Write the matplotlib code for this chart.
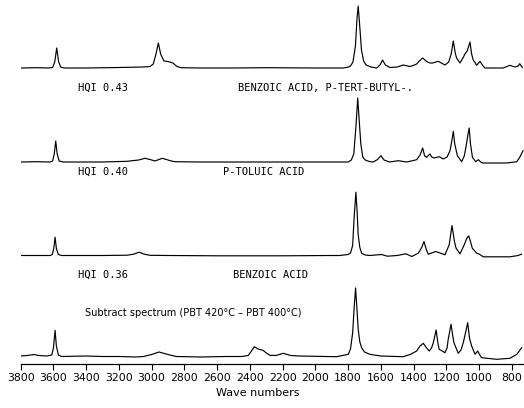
"""Library search hits vs. PBT subtract spectrum (stacked IR spectra)."""
import matplotlib
matplotlib.use("Agg")
import matplotlib.pyplot as plt

# Each spectrum: wavenumber (cm-1) and band height above its own baseline (a.u.)
TBA_WN = [3800, 3700, 3630, 3605, 3592, 3580, 3568, 3555, 3530, 3400, 3200, 3050, 3010,
          2990, 2975, 2959, 2945, 2925, 2900, 2870, 2845, 2820, 2700, 2500, 2300, 2000,
          1830, 1800, 1785, 1770, 1755, 1745, 1738, 1730, 1718, 1705, 1690, 1660, 1625,
          1605, 1589, 1572, 1544, 1500, 1463, 1422, 1395, 1381, 1365, 1344, 1320, 1300,
          1283, 1249, 1208, 1185, 1170, 1157, 1145, 1137, 1116, 1095, 1086, 1072, 1055,
          1045, 1035, 1014, 994, 975, 964, 900, 852, 811, 782, 760, 751, 735]
TBA_H = [0, 0.3, 0, 0.5, 6, 20, 6, 0.8, 0, 0, 0.5, 1.0, 1.5,
         4, 13, 25, 14, 7, 6.5, 5, 1.5, 0.3, 0, 0, 0.3, 0,
         0, 0.8, 2, 6, 22, 50, 62, 45, 18, 7, 3, 1, 0,
         3, 8, 3, 0.5, 1, 3, 1.5, 3, 4, 7, 10, 6.5, 5,
         5, 6.7, 3, 6, 14, 27, 15, 10, 5, 11, 14, 17, 26,
         14, 8, 2.7, 6.7, 2, 0, 0, 0, 2.7, 1, 2, 4.3, 0.5]

TOL_WN = [3800, 3700, 3620, 3605, 3595, 3586, 3577, 3565, 3540, 3400, 3300, 3150, 3080,
          3041, 3010, 2980, 2955, 2935, 2910, 2880, 2857, 2700, 2400, 2100, 1850, 1799,
          1780, 1765, 1752, 1741, 1732, 1722, 1710, 1695, 1670, 1646, 1620, 1599, 1580,
          1547, 1493, 1442, 1400, 1381, 1360, 1344, 1332, 1320, 1300, 1288, 1275, 1243,
          1218, 1195, 1177, 1165, 1157, 1148, 1132, 1106, 1090, 1080, 1068, 1060, 1052,
          1040, 1020, 1004, 990, 978, 900, 831, 769, 751, 731]
TOL_H = [0, 0.3, 0, 1, 8, 21, 8, 1, 0, 0, 0, 0.7, 2,
         3.7, 2.5, 1, 2.5, 3.7, 2.5, 1, 0.3, 0, 0, 0, 0, 0,
         2, 8, 35, 64, 42, 18, 5, 2, 0.5, 0, 2.5, 6.3, 2,
         0, 1.3, 0, 1.5, 2.3, 7, 14, 6, 4.7, 8, 5, 4, 5.3,
         3, 5, 11.3, 22, 30.7, 18, 6.3, 0.3, 6, 14.7, 27, 34, 18,
         4.7, 0.3, 2.3, 0, -1, -1, -1, 0.3, 4.7, 11.3]

BZA_WN = [3800, 3700, 3620, 3607, 3598, 3590, 3582, 3570, 3550, 3300, 3150, 3110, 3077,
          3045, 3010, 2900, 2600, 2200, 1900, 1850, 1800, 1785, 1772, 1762, 1752, 1745,
          1738, 1728, 1717, 1695, 1667, 1596, 1560, 1500, 1446, 1411, 1371, 1350, 1336,
          1322, 1310, 1264, 1230, 1208, 1182, 1165, 1150, 1140, 1116, 1090, 1075, 1063,
          1052, 1041, 1014, 998, 974, 811, 761, 740]
BZA_H = [0, 0, 0, 1, 7, 18.3, 7, 1, 0, 0, 0.3, 1.3, 3.3,
         1.3, 0.2, 0, -0.3, -0.3, 0, 0, 1, 2.5, 10, 40, 63.3, 45,
         20.7, 8, 2.3, 0.5, 0, 1, -0.7, 0, 1.7, -1, 2.3, 8, 14,
         6, 1.3, 4, 2, 0.7, 10.7, 30, 14, 7.3, 1.7, 10.7, 17, 19.7,
         14, 7.3, 2.3, 1.3, -1.3, -1.3, 0, 1.3]

SUB_WN = [3800, 3760, 3720, 3690, 3640, 3610, 3600, 3590, 3582, 3570, 3550, 3400, 3300,
          3200, 3100, 3050, 3000, 2955, 2900, 2850, 2700, 2550, 2450, 2410, 2390, 2373,
          2350, 2320, 2295, 2277, 2240, 2196, 2150, 2100, 2000, 1870, 1799, 1785, 1772,
          1762, 1754, 1746, 1738, 1728, 1717, 1700, 1667, 1600, 1463, 1420, 1381, 1360,
          1340, 1320, 1304, 1290, 1279, 1262, 1250, 1243, 1208, 1195, 1188, 1171, 1160,
          1153, 1127, 1110, 1096, 1080, 1069, 1058, 1045, 1024, 1008, 995, 984, 892,
          811, 769, 739]
SUB_H = [0, 0.5, 1.5, 0.5, 0, 1, 8, 25.7, 10, 1, -0.5, 0, -0.5,
         -0.5, -1, -0.5, 1.5, 4, 1.5, -0.5, -1, -0.5, -0.5, 0.5, 5, 9.3,
         7, 5.7, 2.5, 0.7, 0.5, 2.7, 0.5, 0, -0.3, -0.7, 1.7, 7, 23,
         50, 68, 48, 26.7, 14, 8.3, 4, 1.7, 0, -0.7, 1.5, 5, 10,
         12.7, 8, 5, 8, 13.3, 26, 12, 6.7, 3.3, 8, 16.7, 31.7, 20,
         13.3, 2.7, 6, 13.3, 25, 33.3, 18, 10, 1.7, 5, 1, -1.7, -3.3,
         -2.3, 1.7, 8.3]

TICKS = list(range(3800, 799, -200))

W, H = 524, 408


def px(x, y):
    """pixel position (from top-left) -> figure fraction"""
    return x / W, 1 - y / H


def main():
    fig = plt.figure(figsize=(W / 100, H / 100), dpi=100)
    ax = fig.add_axes([20.7 / W, (H - 364) / H, (W - 20.7) / W, 364 / H])
    ax.set_xlim(3800, 725)
    ax.set_ylim(0, 364)

    # stacked: top to bottom, baseline offsets in axes units (1 unit = 1 px)
    for wn, h, off in [(TBA_WN, TBA_H, 296), (TOL_WN, TOL_H, 202),
                       (BZA_WN, BZA_H, 108.5), (SUB_WN, SUB_H, 8)]:
        ax.plot(wn, [off + v for v in h], color="black", lw=0.85)

    for s in ("top", "left", "right"):
        ax.spines[s].set_visible(False)
    ax.spines["bottom"].set_linewidth(0.9)
    ax.set_yticks([])
    ax.set_xticks(TICKS)
    ax.set_xticklabels([str(t) for t in TICKS], fontsize=7.8)
    ax.tick_params(axis="x", direction="out", length=4, width=0.8, pad=2.5)

    mono = dict(family="DejaVu Sans Mono", fontsize=7.5, va="center", ha="left")
    fig.text(*px(78, 88), "HQI 0.43", **mono)
    fig.text(*px(238, 88), "BENZOIC ACID, P-TERT-BUTYL-.", **mono)
    fig.text(*px(78, 172), "HQI 0.40", **mono)
    fig.text(*px(223, 172), "P-TOLUIC ACID", **mono)
    fig.text(*px(78, 275), "HQI 0.36", **mono)
    fig.text(*px(233, 275), "BENZOIC ACID", **mono)
    fig.text(*px(85, 313), "Subtract spectrum (PBT 420\u00b0C \u2013 PBT 400\u00b0C)",
             fontsize=7, va="center", ha="left")
    fig.text(*px(258, 393), "Wave numbers", fontsize=8, va="center", ha="center")

    fig.savefig("out.png", dpi=100)


if __name__ == "__main__":
    main()
